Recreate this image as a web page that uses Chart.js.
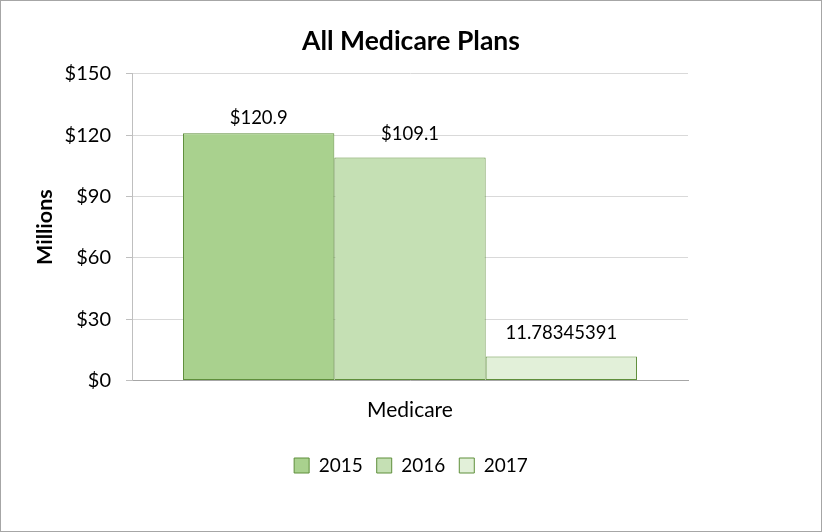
<!DOCTYPE html>
<html><head><meta charset="utf-8">
<script src="https://cdn.jsdelivr.net/npm/chart.js@4"></script>
<style>
html,body{margin:0;padding:0;background:#fff;}
#wrap{position:absolute;left:0;top:0;width:820px;height:530px;border:1px solid #a6a6a6;}
</style></head><body>
<div id="wrap"><canvas id="c" width="820" height="530"></canvas></div>
<script>
const categories = ["Medicare"];
const seriesNames = ["2015", "2016", "2017"];
const values2015 = [120.9];
const values2016 = [109.1];
const values2017 = [11.78345391];
const dataLabels = [["$120.9"], ["$109.1"], ["11.78345391"]];
const yTicks = [0, 30, 60, 90, 120, 150];

const fills = ["#A9D18E", "#C5E0B4", "#E2F0D9"];
const border = "#5F8F3B";
const labelGaps = [9, 17, 17];
const FONT = "Lato, 'Liberation Sans', sans-serif";

const labelPlugin = {
  id: "barLabels",
  afterDatasetsDraw(chart) {
    const ctx = chart.ctx;
    ctx.save();
    ctx.font = "18.5px " + FONT;
    ctx.fillStyle = "#000";
    ctx.textAlign = "center";
    ctx.textBaseline = "alphabetic";
    chart.data.datasets.forEach((ds, i) => {
      const meta = chart.getDatasetMeta(i);
      meta.data.forEach((bar, j) => {
        ctx.fillText(dataLabels[i][j], bar.x, bar.y - labelGaps[i]);
      });
    });
    ctx.restore();
  }
};

new Chart(document.getElementById("c"), {
  type: "bar",
  data: {
    labels: categories,
    datasets: [
      { label: seriesNames[0], data: values2015, backgroundColor: fills[0], borderColor: border, borderWidth: 1, borderSkipped: false },
      { label: seriesNames[1], data: values2016, backgroundColor: fills[1], borderColor: border, borderWidth: 1, borderSkipped: false },
      { label: seriesNames[2], data: values2017, backgroundColor: fills[2], borderColor: border, borderWidth: 1, borderSkipped: false }
    ]
  },
  options: {
    responsive: false,
    animation: false,
    devicePixelRatio: 1,
    layout: { padding: { left: 0, right: 0, top: 0, bottom: 46 } },
    datasets: { bar: { categoryPercentage: 0.8165, barPercentage: 1.0 } },
    plugins: {
      title: { display: true, text: "All Medicare Plans", color: "#000",
        font: { family: FONT, size: 26.5, weight: "bold" }, padding: { top: 25, bottom: 16 } },
      legend: { position: "bottom", labels: { color: "#000", boxWidth: 15, boxHeight: 15,
        font: { family: FONT, size: 19 }, padding: 14 } },
      tooltip: { enabled: false }
    },
    scales: {
      x: {
        grid: { display: false, drawTicks: false },
        border: { color: "#a6a6a6" },
        ticks: { color: "#000", font: { family: FONT, size: 21 }, padding: 17 },
        afterFit(axis) { axis.height = 61.5; }
      },
      y: {
        min: 0, max: 150,
        afterBuildTicks(axis) { axis.ticks = yTicks.map(v => ({ value: v })); },
        grid: { color: "#d9d9d9", tickLength: 6, tickColor: "#bfbfbf" },
        border: { color: "#bfbfbf" },
        title: { display: true, text: "Millions", color: "#000", font: { family: FONT, size: 21.5, weight: "bold" }, padding: { top: 31, bottom: 0 } },
        ticks: { color: "#000", font: { family: FONT, size: 20 }, padding: 15, callback: v => "$" + v },
        afterFit(axis) { axis.width = 131; }
      },
      yRight: {
        position: "right",
        display: true,
        grid: { display: false, drawTicks: false },
        border: { display: false },
        ticks: { display: false },
        afterFit(axis) { axis.width = 133; }
      }
    }
  },
  plugins: [labelPlugin]
});
</script>
</body></html>
